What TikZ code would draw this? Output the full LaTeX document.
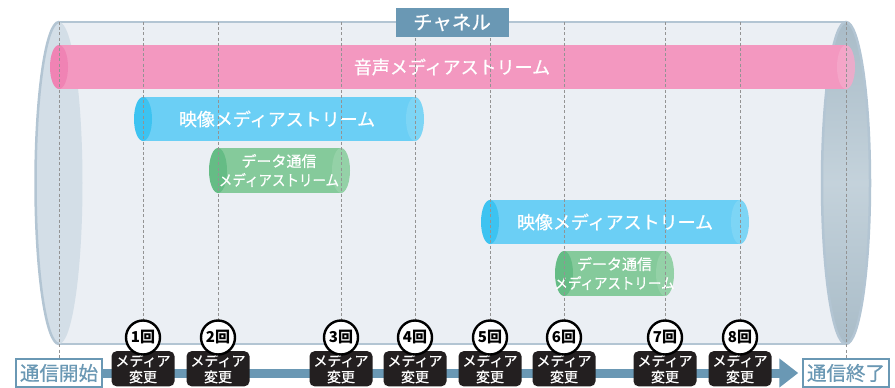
\documentclass[tikz,border=0pt]{standalone}
\usepackage{fontspec}
\setmainfont{Noto Sans CJK JP}
\newfontfamily\jpmed{Noto Sans CJK JP}[FakeBold=0.6]
\usetikzlibrary{arrows.meta}
\definecolor{chbody}{HTML}{EBEFF4}
\definecolor{chline}{HTML}{B3C5D3}
\definecolor{chend}{HTML}{D3DEE7}
\definecolor{chdark}{HTML}{A9BCC8}
\definecolor{chmid}{HTML}{C4D2DB}
\definecolor{tline}{HTML}{6A98B4}
\definecolor{pinkb}{HTML}{F398C0}
\definecolor{pinkl}{HTML}{F083B4}
\definecolor{pinkr}{HTML}{F5A8CA}
\definecolor{blueb}{HTML}{6BCFF5}
\definecolor{bluel}{HTML}{3DC3F1}
\definecolor{bluer}{HTML}{7DD5F5}
\definecolor{greenb}{HTML}{85CA9B}
\definecolor{greenl}{HTML}{65BC85}
\definecolor{greenr}{HTML}{94D1A7}
\definecolor{badge}{HTML}{231F20}
\begin{document}
\begin{tikzpicture}[x=1pt,y=-1pt,
  bartext/.style={text=white,font=\jpmed\fontsize{18}{20}\selectfont},
  smalltext/.style={text=white,align=center,font=\jpmed\fontsize{15}{19}\selectfont},
  guide/.style={draw=gray!85,dash pattern=on 3pt off 2.2pt,line width=0.8pt},
  endbox/.style={draw=tline,line width=1.5pt,fill=white,text=tline,minimum width=86,minimum height=28,inner sep=0pt,font=\jpmed\fontsize{19.5}{19.5}\selectfont},
  changebox/.style={fill=badge,rounded corners=5pt,text=white,align=center,anchor=north,minimum width=63,inner xsep=0pt,inner ysep=3pt,font=\jpmed\fontsize{14}{16}\selectfont},
  countmark/.style={circle,draw=black,line width=2.4pt,fill=white,minimum size=34,inner sep=0pt,font=\bfseries\fontsize{15}{15}\selectfont}]
\useasboundingbox (0,0) rectangle (895,388);
\clip (0,0) rectangle (895,388);
\fill[chbody] (59,22) rectangle (846,344);
\draw[chline,line width=2.5pt] (59,22) -- (846,22) (59,344) -- (846,344);
\fill[chend] (59,183) ellipse (23.5 and 161);
\begin{scope}
\clip (0,0) rectangle (59,388);
\draw[chline,line width=2.5pt] (59,183) ellipse (23.5 and 161);
\end{scope}
\shadedraw[top color=chdark,bottom color=chdark,middle color=chmid,draw=chline,line width=2.5pt] (846,183) ellipse (24 and 161);
\fill[pinkb] (59,45) rectangle (846,89);
\fill[pinkl] (59,67) ellipse (9 and 22);
\fill[pinkr,opacity=0.85] (846,67) ellipse (9 and 22);
\node[bartext] (voice) at (452,67) {音声メディアストリーム};
\fill[blueb] (143,97) rectangle (415,141);
\fill[bluel] (143,119) ellipse (9 and 22);
\fill[bluer] (415,119) ellipse (9 and 22);
\node[bartext] (video1) at (277,119) {映像メディアストリーム};
\fill[greenb] (218,148) rectangle (341,193);
\fill[greenl] (218,170.5) ellipse (9 and 22.5);
\fill[greenr] (341,170.5) ellipse (9 and 22.5);
\node[smalltext] (data1) at (279,170.5) {データ通信\\\scalebox{0.9}[1]{メディアストリーム}};
\fill[blueb] (490,200) rectangle (740,244);
\fill[bluel] (490,222) ellipse (9 and 22);
\fill[bluer] (740,222) ellipse (9 and 22);
\node[bartext] (video2) at (615,222) {映像メディアストリーム};
\fill[greenb] (564,251) rectangle (665,296);
\fill[greenl] (564,273.5) ellipse (9 and 22.5);
\fill[greenr] (665,273.5) ellipse (9 and 22.5);
\node[smalltext] (data2) at (614.5,273.5) {データ通信\\\scalebox{0.9}[1]{メディアストリーム}};
\foreach \x in {143,218,341,415,490,564,665,740}
  \draw[guide] (\x,22) -- (\x,322);
\foreach \x in {59,846}
  \draw[guide] (\x,22) -- (\x,359);
\node[fill=tline,text=white,minimum width=113,minimum height=29,inner sep=0pt,font=\jpmed\fontsize{19.5}{19.5}\selectfont] (channel) at (452,22.5) {チャネル};
\node[endbox] (start) at (59,373) {通信開始};
\node[endbox] (finish) at (846,373) {通信終了};
\draw[tline,line width=9pt,-{Triangle[width=28pt,length=19pt]},shorten >=4pt] (start) -- (finish);
\foreach \x/\n in {143/1,218/2,341/3,415/4,490/5,564/6,665/7,740/8}{
  \node[changebox] (chg\n) at (\x,351) {メディア\\変更};
  \node[countmark] (cnt\n) at (\x,337.5) {{\n}回};
}
\end{tikzpicture}
\end{document}
